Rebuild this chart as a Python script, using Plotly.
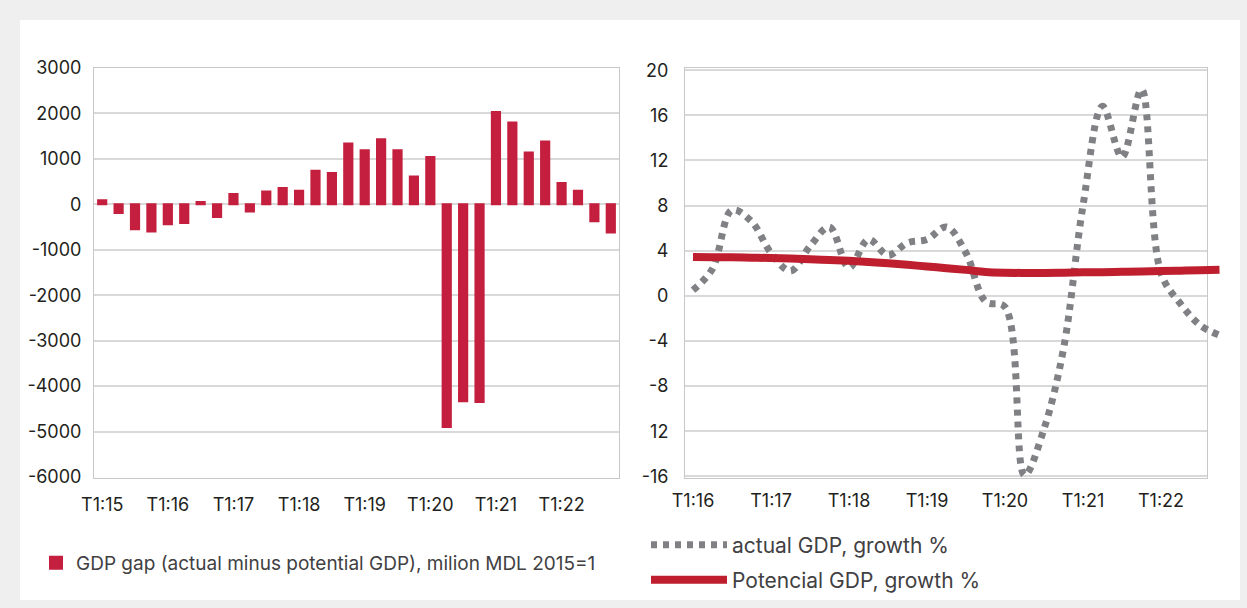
import plotly.graph_objects as go

W, H = 1247, 608

# ---------------- data ----------------
gap_quarters = [f"T{q}:{y}" for y in range(15, 23) for q in range(1, 5)]
gap_values = [90, -190, -550, -600, -440, -410, 50, -280, 230, -160, 280, 360, 300,
              740, 690, 1340, 1190, 1430, 1190, 610, 1040, -4900, -4330, -4350,
              2030, 1800, 1140, 1380, 470, 300, -370, -620]
gap_tick_labels = ["T1:15", "T1:16", "T1:17", "T1:18", "T1:19", "T1:20", "T1:21", "T1:22"]
gap_ytick_vals = [-6000, -5000, -4000, -3000, -2000, -1000, 0, 1000, 2000, 3000]
gap_ytick_text = ["-6000", "-5000", "-4000", "-3000", "-2000", "-1000", "0", "1000", "2000", "3000"]

growth_quarters = [f"T{q}:{y}" for y in range(16, 23) for q in range(1, 5)]
actual_growth = [0.5, 2.4, 7.6, 6.6, 3.8, 2.2, 4.4, 6.1, 2.5, 5.0, 3.6, 4.7, 5.0, 6.1,
                 3.8, -0.5, -1.0, -15.9, -11.8, -4.7, 8.0, 16.8, 12.3, 18.3, 2.0,
                 -0.7, -2.6, -3.5]
potential_growth = [3.45, 3.43, 3.41, 3.38, 3.35, 3.3, 3.24, 3.17, 3.1, 3.0, 2.88,
                    2.75, 2.6, 2.45, 2.3, 2.12, 2.05, 2.03, 2.03, 2.05, 2.08, 2.1,
                    2.13, 2.16, 2.2, 2.23, 2.26, 2.3]
growth_tick_labels = ["T1:16", "T1:17", "T1:18", "T1:19", "T1:20", "T1:21", "T1:22"]
growth_ytick_vals = [-16, -12, -8, -4, 0, 4, 8, 12, 16, 20]
growth_ytick_text = ["-16", "12", "-8", "-4", "0", "4", "8", "12", "16", "20"]

GAP_NAME = "GDP gap (actual minus potential GDP), milion MDL 2015=1"
ACT_NAME = "actual GDP, growth %"
POT_NAME = "Potencial GDP, growth %"

# ---------------- styling ----------------
FONT = "Inter, Roboto, Liberation Sans, sans-serif"
TICK_COLOR = "#231f20"
LEG_COLOR = "#414042"
GRID = "#d9d9d9"
FRAME = "#c8c8c8"
RED_BAR = "#c41f3e"
RED_LINE = "#be1e2d"
GRAY = "#808184"


def px_x(p):
    return p / W


def px_y(p):
    return 1 - p / H


gap_idx = list(range(len(gap_values)))
gr_idx = list(range(len(actual_growth)))

fig = go.Figure()

fig.add_trace(go.Bar(
    x=gap_idx, y=gap_values, name=GAP_NAME,
    marker=dict(color=RED_BAR, line=dict(width=2, color=RED_BAR)),
    width=0.5, xaxis="x", yaxis="y", legend="legend",
    customdata=gap_quarters, hovertemplate="%{customdata}: %{y}<extra></extra>",
))

# empty trace so that the visible (framed) right-hand axes are drawn
fig.add_trace(go.Scatter(x=[], y=[], xaxis="x2", yaxis="y2", showlegend=False,
                         hoverinfo="skip"))

fig.add_trace(go.Scatter(
    x=gr_idx, y=actual_growth, name=ACT_NAME, mode="lines",
    line=dict(color=GRAY, width=7, dash="6px,6px", shape="spline", smoothing=1.0),
    xaxis="x3", yaxis="y3", legend="legend2",
    customdata=growth_quarters, hovertemplate="%{customdata}: %{y}<extra></extra>",
))
fig.add_trace(go.Scatter(
    x=gr_idx, y=potential_growth, name=POT_NAME, mode="lines",
    line=dict(color=RED_LINE, width=8, shape="spline"),
    xaxis="x3", yaxis="y3", legend="legend3",
    customdata=growth_quarters, hovertemplate="%{customdata}: %{y}<extra></extra>",
))

tickfont = dict(family=FONT, size=18, color=TICK_COLOR)
ydom = [px_y(478), px_y(67.5)]
q_px = 19.5
r_left = -0.41

fig.update_layout(
    width=W, height=H,
    margin=dict(l=0, r=0, t=0, b=0, autoexpand=False),
    paper_bgcolor="#efefef",
    plot_bgcolor="rgba(0,0,0,0)",
    barmode="relative",
    shapes=[dict(type="rect", xref="paper", yref="paper",
                 x0=px_x(20), x1=px_x(1240), y0=px_y(600), y1=px_y(20),
                 fillcolor="white", line=dict(width=0), layer="below")],
    xaxis=dict(domain=[px_x(94), px_x(619)], range=[-0.5, 31.5], anchor="y",
               tickvals=gap_idx[::4], ticktext=gap_tick_labels, tickfont=tickfont,
               ticks="outside", ticklen=10, tickcolor="rgba(0,0,0,0)",
               showgrid=False, zeroline=False, showline=True, mirror=True,
               linecolor=FRAME, linewidth=1, automargin=False),
    yaxis=dict(domain=ydom, range=[-6020, 3010], anchor="x",
               tickvals=gap_ytick_vals, ticktext=gap_ytick_text,
               tickfont=tickfont, ticks="outside", ticklen=8,
               tickcolor="rgba(0,0,0,0)", showgrid=True, gridcolor=GRID,
               gridwidth=1.5, zeroline=False, showline=True, mirror=True,
               linecolor=FRAME, linewidth=1, automargin=False),
    xaxis2=dict(domain=[px_x(685), px_x(1207)], anchor="y2",
                range=[r_left, r_left + (1207 - 685) / q_px],
                tickvals=gr_idx[::4], ticktext=growth_tick_labels, tickfont=tickfont,
                ticks="outside", ticklen=6, tickcolor="rgba(0,0,0,0)",
                showgrid=False, zeroline=False, showline=True, mirror=True,
                linecolor=FRAME, linewidth=1, automargin=False),
    yaxis2=dict(domain=ydom, anchor="x2", range=[-16.15, 20.24],
                tickvals=growth_ytick_vals, ticktext=growth_ytick_text,
                tickfont=tickfont, ticks="outside", ticklen=12,
                tickcolor="rgba(0,0,0,0)", showgrid=True, gridcolor=GRID,
                gridwidth=1.5, zeroline=False, showline=True, mirror=True,
                linecolor=FRAME, linewidth=1, automargin=False),
    xaxis3=dict(domain=[px_x(685), px_x(1222)], anchor="y3",
                range=[r_left, r_left + (1222 - 685) / q_px], visible=False),
    yaxis3=dict(domain=ydom, anchor="x3", range=[-16.15, 20.24], visible=False),
    legend=dict(x=px_x(36), y=px_y(563), xanchor="left", yanchor="middle",
                bgcolor="rgba(0,0,0,0)", font=dict(family=FONT, size=19, color=LEG_COLOR),
                itemwidth=30),
    legend2=dict(x=px_x(646), y=px_y(545), xanchor="left", yanchor="middle",
                 bgcolor="rgba(0,0,0,0)", font=dict(family=FONT, size=21, color=LEG_COLOR),
                 itemwidth=76),
    legend3=dict(x=px_x(646), y=px_y(580), xanchor="left", yanchor="middle",
                 bgcolor="rgba(0,0,0,0)", font=dict(family=FONT, size=21, color=LEG_COLOR),
                 itemwidth=76),
    showlegend=True,
)

fig.write_html("out.html")
